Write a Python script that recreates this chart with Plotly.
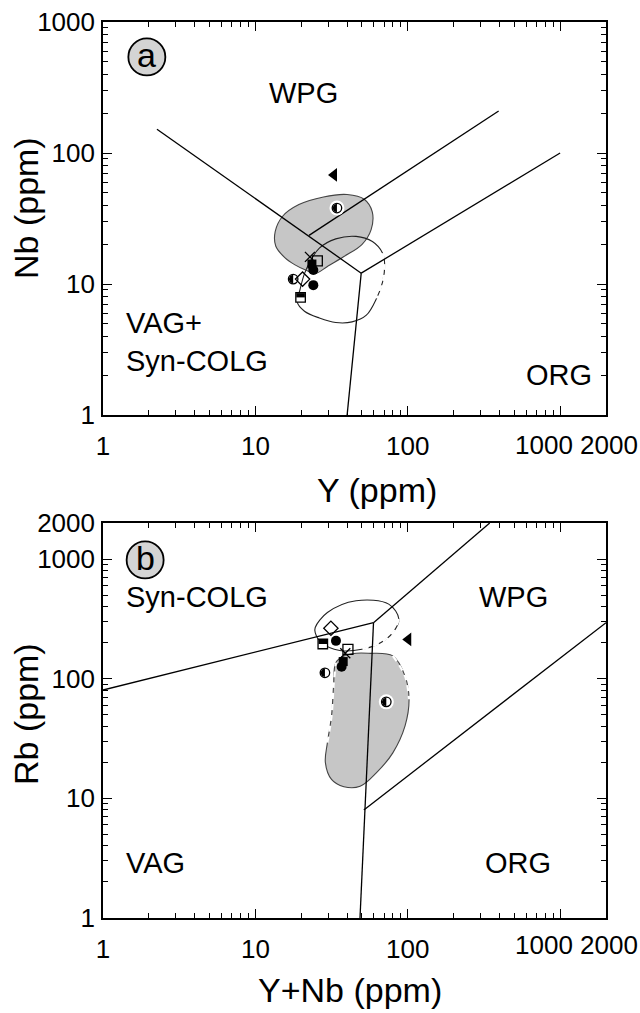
import numpy as np
import plotly.graph_objects as go

FONT = "Liberation Sans, Arial, Helvetica, sans-serif"
W, H = 640, 1013

# ---------------- sample data ----------------
sample_symbol = ["triangle", "half-circle-halo", "half-circle", "diamond", "circle",
                 "half-square", "square", "filled-square", "circle", "x"]
Y_ppm  = [32.8, 34.3, 17.7, 20.4, 24.0, 19.8, 25.5, 23.5, 24.0, 22.8]
Nb_ppm = [68.0, 38.0, 10.9, 10.9, 9.8, 7.9, 15.0, 14.2, 12.8, 16.1]
Rb_ppm = [213, 64, 112, 264, 207, 195, 176, 139, 126, 163]

# ---------------- discrimination boundaries ----------------
# panel a: Nb vs Y
a_wpg_Y = [2.26, 49.5]
a_wpg_Nb = [152, 12.1]
a_upper_Y = [22.5, 395]
a_upper_Nb = [23.5, 209]
a_org_Y = [49.5, 1000]
a_org_Nb = [12.1, 100]
a_vag_Y = [40, 49.5]
a_vag_Nb = [1, 12.1]
# panel b: Rb vs Y+Nb
b_syn_YNb = [1, 59.6]
b_syn_Rb = [80.4, 294]
b_vag_YNb = [48.6, 59.6]
b_vag_Rb = [1, 294]
b_wpg_YNb = [59.6, 345]
b_wpg_Rb = [294, 2000]
b_org_YNb = [51.5, 2000]
b_org_Rb = [8.0, 294]

# ---------------- fields ----------------
a_grey_Y = [13.5, 15.1, 19.3, 28.0, 40.0, 52.0, 58.5, 57.5, 50.0, 38.1, 29.7, 24.7, 21.9, 18.2, 15.6, 13.6, 13.5]
a_grey_Nb = [25.2, 32.9, 40.4, 46.2, 48.2, 44.2, 35.5, 26.0, 20.0, 16.2, 13.6, 12.0, 12.6, 14.0, 15.9, 19.5, 25.2]
a_open_Y = [21.0, 23.2, 26.3, 33.7, 45.8, 58.6, 68.4, 70.6, 68.4, 62.4, 53.5, 43.1, 33.7, 26.3, 21.0, 18.8, 19.6, 21.0]
a_open_Nb = [12.0, 15.3, 18.8, 22.1, 23.1, 21.1, 17.2, 14.0, 10.4, 7.76, 5.78, 5.14, 5.08, 5.5, 6.2, 7.3, 9.0, 12.0]
b_open_YNb = [24.7, 29.7, 45.8, 75.0, 87.5, 79.8, 66.3, 50.0, 35.8, 27.1, 24.7, 24.7]
b_open_Rb = [268, 357, 448, 420, 314, 243, 200, 176, 172, 200, 243, 268]
b_grey_YNb = [45.8, 55.1, 79.8, 96.0, 102, 96.0, 79.8, 62.4, 48.7, 38.1, 31.6, 28.8, 29.7, 31.6, 32.6, 33.7, 38.1, 45.8]
b_grey_Rb = [163, 163, 155, 105, 67.3, 40.3, 24.0, 16.4, 12.6, 12.5, 14.4, 19.9, 29.2, 48.8, 86.9, 136, 155, 163]

# ---------------- tick labels ----------------
x_tickvals = [1, 10, 100, 1000, 2000]
x_ticktext = ["1", "10", "100", "", ""]          # 1000 / 2000 placed as separate labels (set apart)
x_edge_labels = ["1000", "2000"]
ya_tickvals = [1, 10, 100, 1000]
ya_ticktext = ["1", "10", "100", "1000"]
yb_tickvals = [1, 10, 100, 1000, 2000]
yb_ticktext = ["1", "10", "100", "1000", "2000"]
minor_vals = [m * d for d in (1, 10, 100) for m in range(2, 10)]

# ---------------- layout geometry ----------------
xdom = [103 / W, 606 / W]
ya_dom = [1 - 415 / H, 1 - 22 / H]
yb_dom = [1 - 918 / H, 1 - 523 / H]
XR = [0, np.log10(2000)]
YAR = [0, 3]
YBR = [0, np.log10(2000)]
sx = (xdom[1] - xdom[0]) * W / (XR[1] - XR[0])
sya = (ya_dom[1] - ya_dom[0]) * H / (YAR[1] - YAR[0])
syb = (yb_dom[1] - yb_dom[0]) * H / (YBR[1] - YBR[0])

fig = go.Figure()
GREY = "#c6c6c6"
EDGE = "#444444"
TICKSIZE = 26


def add_field(xs, ys, xa, ya, fill):
    fig.add_trace(go.Scatter(
        x=xs, y=ys, mode="lines", line=dict(color=EDGE if fill else "#222222", width=1.1, shape="spline", smoothing=1.0),
        fill="toself", fillcolor=GREY if fill else "rgba(0,0,0,0)",
        xaxis=xa, yaxis=ya, hoverinfo="skip", showlegend=False))


def add_dash(xs, ys, xa, ya):
    fig.add_trace(go.Scatter(
        x=xs, y=ys, mode="lines", line=dict(color="white", width=2.2, dash="6px,5px", shape="spline"),
        xaxis=xa, yaxis=ya, hoverinfo="skip", showlegend=False))


def add_line(xs, ys, xa, ya):
    fig.add_trace(go.Scatter(
        x=xs, y=ys, mode="lines", line=dict(color="black", width=1.3),
        xaxis=xa, yaxis=ya, hoverinfo="skip", showlegend=False))


add_field(a_grey_Y, a_grey_Nb, "x", "y", True)
add_field(a_open_Y, a_open_Nb, "x", "y", False)
add_field(b_grey_YNb, b_grey_Rb, "x2", "y2", True)
add_field(b_open_YNb, b_open_Rb, "x2", "y2", False)
# broken (dashed) parts of the field outlines
add_dash(a_open_Y[6:10], a_open_Nb[6:10], "x", "y")
add_dash(b_open_YNb[4:8], b_open_Rb[4:8], "x2", "y2")
add_dash(b_grey_YNb[2:5], b_grey_Rb[2:5], "x2", "y2")
add_dash(b_grey_YNb[12:16], b_grey_Rb[12:16], "x2", "y2")

for xs, ys in [(a_wpg_Y, a_wpg_Nb), (a_upper_Y, a_upper_Nb), (a_org_Y, a_org_Nb), (a_vag_Y, a_vag_Nb)]:
    add_line(xs, ys, "x", "y")
for xs, ys in [(b_syn_YNb, b_syn_Rb), (b_vag_YNb, b_vag_Rb), (b_wpg_YNb, b_wpg_Rb), (b_org_YNb, b_org_Rb)]:
    add_line(xs, ys, "x2", "y2")

# ---------------- sample symbols ----------------
YNb_ppm = [y + n for y, n in zip(Y_ppm, Nb_ppm)]
R = 4.3


def half_poly(x, y, kind, sy):
    lx, ly = np.log10(x), np.log10(y)
    if kind == "circle":
        t = np.linspace(np.pi / 2, 3 * np.pi / 2, 16)
        px, py = R * np.cos(t), R * np.sin(t)
    else:
        px = np.array([-R, R, R, -R, -R])
        py = np.array([0, 0, R, R, 0])
    return list(10 ** (lx + px / sx)), list(10 ** (ly + py / sy))


panels = [("x", "y", Y_ppm, Nb_ppm, sya), ("x2", "y2", YNb_ppm, Rb_ppm, syb)]
marker_map = {
    "triangle": dict(symbol="triangle-left", size=12, color="black", line=dict(width=0)),
    "diamond": dict(symbol="diamond-open", size=11, color="black", line=dict(width=1.3)),
    "circle": dict(symbol="circle", size=10, color="black", line=dict(width=0)),
    "square": dict(symbol="square-open", size=10, color="black", line=dict(width=1.3)),
    "filled-square": dict(symbol="square", size=9, color="black", line=dict(width=0)),
    "x": dict(symbol="x-thin-open", size=10, color="black", line=dict(width=1.3)),
}
for xa, ya, xv, yv, sy in panels:
    for i, s in enumerate(sample_symbol):
        if s == "half-circle-halo":
            fig.add_trace(go.Scatter(x=[xv[i]], y=[yv[i]], mode="markers",
                                     marker=dict(symbol="circle", size=15, color="white", line=dict(width=0)),
                                     xaxis=xa, yaxis=ya, hoverinfo="skip", showlegend=False))
        if s.startswith("half"):
            kind = "circle" if "circle" in s else "square"
            hx, hy = half_poly(xv[i], yv[i], kind, sy)
            fig.add_trace(go.Scatter(x=[xv[i]], y=[yv[i]], mode="markers",
                                     marker=dict(symbol="circle" if kind == "circle" else "square",
                                                 size=9.5, color="white", line=dict(width=1.3, color="black")),
                                     xaxis=xa, yaxis=ya, hoverinfo="skip", showlegend=False))
            fig.add_trace(go.Scatter(x=hx, y=hy, mode="lines", fill="toself", fillcolor="black",
                                     line=dict(width=0, color="black"),
                                     xaxis=xa, yaxis=ya, hoverinfo="skip", showlegend=False))
        else:
            fig.add_trace(go.Scatter(x=[xv[i]], y=[yv[i]], mode="markers", marker=marker_map[s],
                                     xaxis=xa, yaxis=ya, hoverinfo="skip", showlegend=False))

# panel letters (circled)
letter_pos = [("x", "y", 1.94, 541, "a"), ("x2", "y2", 1.89, 982, "b")]
for xa, ya, lx, ly, t in letter_pos:
    fig.add_trace(go.Scatter(x=[lx], y=[ly], mode="markers",
                             marker=dict(symbol="circle", size=37, color="#d4d4d4", line=dict(width=1.8, color="black")),
                             xaxis=xa, yaxis=ya, hoverinfo="skip", showlegend=False))
    fig.add_annotation(x=np.log10(lx), y=np.log10(ly), xref=xa, yref=ya, text=t, showarrow=False,
                       font=dict(family=FONT, size=34, color="black"), yshift=2)

# field names
field_labels = [
    ("x", "y", 20.8, 287, "WPG", "center"),
    ("x", "y", 1.38, 3.64, "VAG+<br>Syn-COLG", "left"),
    ("x", "y", 982, 2.02, "ORG", "center"),
    ("x2", "y2", 1.38, 484, "Syn-COLG", "left"),
    ("x2", "y2", 498, 484, "WPG", "center"),
    ("x2", "y2", 1.38, 2.87, "VAG", "left"),
    ("x2", "y2", 532, 2.87, "ORG", "center"),
]
for xa, ya, lx, ly, t, anc in field_labels:
    fig.add_annotation(x=np.log10(lx), y=np.log10(ly), xref=xa, yref=ya, text=t, showarrow=False,
                       xanchor=anc, yanchor="middle", align="left",
                       font=dict(family=FONT, size=29, color="black"))

# the 1000 / 2000 tick labels of both x axes, set slightly apart as in the original
for yref_px in (445, 945):
    for lab, cx in zip(x_edge_labels, (544, 609)):
        fig.add_annotation(x=cx / W, y=1 - yref_px / H, xref="paper", yref="paper", text=lab,
                           showarrow=False, xanchor="center", yanchor="middle",
                           font=dict(family=FONT, size=TICKSIZE, color="black"))

# axis titles
titles = [
    (26 / W, 1 - 208 / H, "Nb (ppm)", -90),
    (26 / W, 1 - 714 / H, "Rb (ppm)", -90),
    (377 / W, 1 - 490 / H, "Y (ppm)", 0),
    (350 / W, 1 - 990 / H, "Y+Nb (ppm)", 0),
]
for px, py, t, ang in titles:
    fig.add_annotation(x=px, y=py, xref="paper", yref="paper", text=t, showarrow=False, textangle=ang,
                       xanchor="center", yanchor="middle",
                       font=dict(family=FONT, size=34, color="black"))


def axis(dom, rng, tv, tt, anchor):
    return dict(type="log", domain=dom, range=rng, anchor=anchor, showline=True, linecolor="black",
                linewidth=1.6, mirror="allticks", ticks="inside", ticklen=9, tickwidth=1.2,
                tickcolor="black", showgrid=False, zeroline=False, tickvals=tv, ticktext=tt,
                tickangle=0, automargin=False,
                tickfont=dict(family=FONT, size=TICKSIZE, color="black"), fixedrange=True,
                minor=dict(tickvals=minor_vals, ticks="inside", ticklen=5, tickwidth=1, tickcolor="black"))


fig.update_layout(
    width=W, height=H, margin=dict(l=0, r=0, t=0, b=0),
    paper_bgcolor="white", plot_bgcolor="white", showlegend=False,
    xaxis=axis(xdom, XR, x_tickvals, x_ticktext, "y"),
    yaxis=axis(ya_dom, YAR, ya_tickvals, ya_ticktext, "x"),
    xaxis2=axis(xdom, XR, x_tickvals, x_ticktext, "y2"),
    yaxis2=axis(yb_dom, YBR, yb_tickvals, yb_ticktext, "x2"),
)
fig.update_xaxes(ticklabelstandoff=7)
fig.update_yaxes(ticklabelstandoff=1)

fig.write_html("out.html")
